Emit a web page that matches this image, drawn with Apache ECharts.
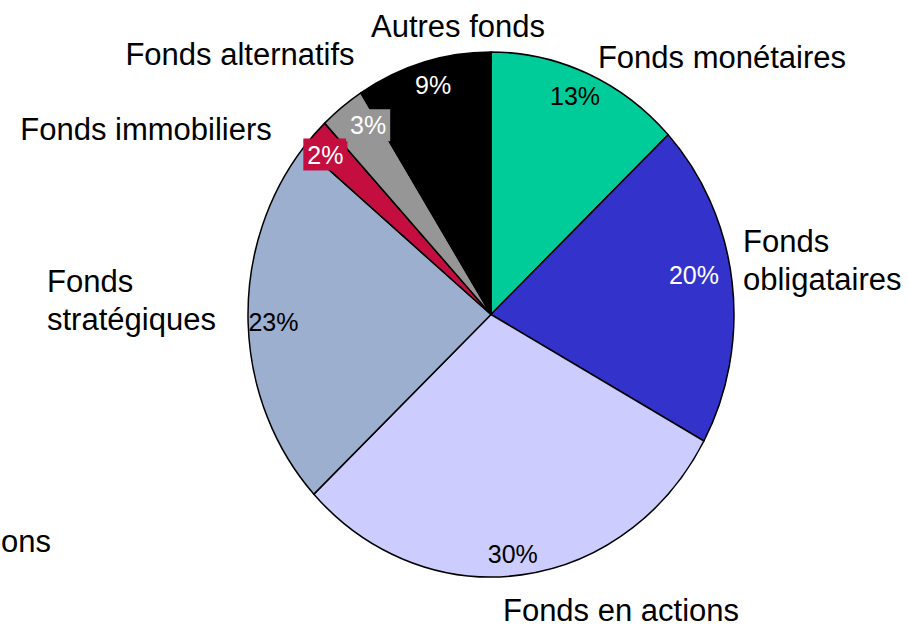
<!DOCTYPE html>
<html>
<head>
<meta charset="utf-8">
<script src="https://cdn.jsdelivr.net/npm/echarts@6/dist/echarts.min.js"></script>
<style>
  html, body { margin: 0; padding: 0; background: #ffffff; }
  #wrap { position: relative; width: 908px; height: 626px; overflow: hidden; background: #ffffff; }
  #pie { position: absolute; left: 0; top: 0; width: 908px; height: 580px; transform: scaleY(1.0802); transform-origin: 0 0; }
  #labels { position: absolute; left: 0; top: 0; width: 908px; height: 626px; }
</style>
</head>
<body>
<div id="wrap">
  <div id="pie"></div>
  <div id="labels"></div>
</div>
<script>
// ---- data ----
const categories = ['Fonds monétaires', 'Fonds obligataires', 'Fonds en actions', 'Fonds stratégiques', 'Fonds immobiliers', 'Fonds alternatifs', 'Autres fonds'];
const values = [13, 20, 30, 23, 2, 3, 9];
const nameLabels = ['Fonds monétaires', 'Fonds\nobligataires', 'Fonds en actions', 'Fonds\nstratégiques', 'Fonds immobiliers', 'Fonds alternatifs', 'Autres fonds'];
const strayLabel = 'ons';

// ---- styles / layout ----
const sliceColors = ['#00CC99', '#3333CC', '#CCCCFF', '#9CAFCE', '#C40E3F', '#969696', '#000000'];
const pctTextColors = ['#000000', '#ffffff', '#000000', '#000000', '#ffffff', '#ffffff', '#ffffff'];
const pctBackgrounds = [null, null, null, null, '#C40E3F', '#969696', null];
const pctNudge = [[-4, 1], [-17, -9], [-6, 2], [4, 0], [-4, 4], [13, 0], [4, 0]];
const namePos = [[722, 57.5, 'center'], [743, 260, 'left'], [621, 610, 'center'], [47, 300, 'left'], [146, 129, 'center'], [240, 54.5, 'center'], [458, 26.5, 'center']];
const FONT = "'Liberation Sans', Arial, Helvetica, sans-serif";
const CX = 491, CY = 314.5, R = 243, K = 1.0802;

// ---- elliptical pie (scaled layer) ----
const pieChart = echarts.init(document.getElementById('pie'), null, { renderer: 'svg' });
pieChart.setOption({
  animation: false,
  series: [{
    type: 'pie',
    center: [CX, CY / K],
    radius: R,
    startAngle: 90,
    clockwise: true,
    silent: true,
    label: { show: false },
    labelLine: { show: false },
    emphasis: { disabled: true },
    itemStyle: { borderColor: '#000000', borderWidth: 1.5 },
    data: categories.map((c, i) => ({ name: c, value: values[i], itemStyle: { color: sliceColors[i] } }))
  }]
});

// ---- labels layer (unscaled) ----
const labelChart = echarts.init(document.getElementById('labels'), null, { renderer: 'svg' });
labelChart.setOption({
  animation: false,
  graphic: [{
    type: 'text',
    silent: true,
    style: { text: strayLabel, x: 1, y: 541, align: 'left', verticalAlign: 'middle', font: '31px ' + FONT, fill: '#000000' }
  }],
  series: [
    {
      type: 'pie',
      center: [CX, CY],
      radius: R,
      startAngle: 90,
      clockwise: true,
      silent: true,
      avoidLabelOverlap: false,
      emphasis: { disabled: true },
      itemStyle: { color: 'rgba(0,0,0,0)', borderWidth: 0 },
      labelLine: { show: false },
      label: {
        show: true,
        position: 'outside',
        formatter: (p) => nameLabels[p.dataIndex],
        fontFamily: FONT,
        fontSize: 31,
        lineHeight: 38,
        color: '#000000'
      },
      labelLayout: (p) => ({
        x: namePos[p.dataIndex][0],
        y: namePos[p.dataIndex][1],
        align: namePos[p.dataIndex][2],
        verticalAlign: 'middle'
      }),
      data: categories.map((c, i) => ({ name: c, value: values[i] }))
    },
    {
      type: 'pie',
      center: [CX, CY],
      radius: [R * 0.8, R],
      startAngle: 90,
      clockwise: true,
      silent: true,
      avoidLabelOverlap: false,
      emphasis: { disabled: true },
      itemStyle: { color: 'rgba(0,0,0,0)', borderWidth: 0 },
      labelLine: { show: false },
      label: {
        show: true,
        position: 'inside',
        formatter: '{c}%',
        fontFamily: FONT,
        fontSize: 25
      },
      labelLayout: (p) => {
        const r = p.labelRect;
        const lx = r.x + r.width / 2;
        const ly = r.y + r.height / 2;
        const n = pctNudge[p.dataIndex];
        return { x: lx + n[0], y: CY + (ly - CY) * K + n[1], align: 'center', verticalAlign: 'middle' };
      },
      data: categories.map((c, i) => {
        const lab = { color: pctTextColors[i] };
        if (pctBackgrounds[i]) { lab.backgroundColor = pctBackgrounds[i]; lab.padding = [4, 4, 3, 4]; }
        return { name: c, value: values[i], label: lab };
      })
    }
  ]
});
</script>
</body>
</html>
